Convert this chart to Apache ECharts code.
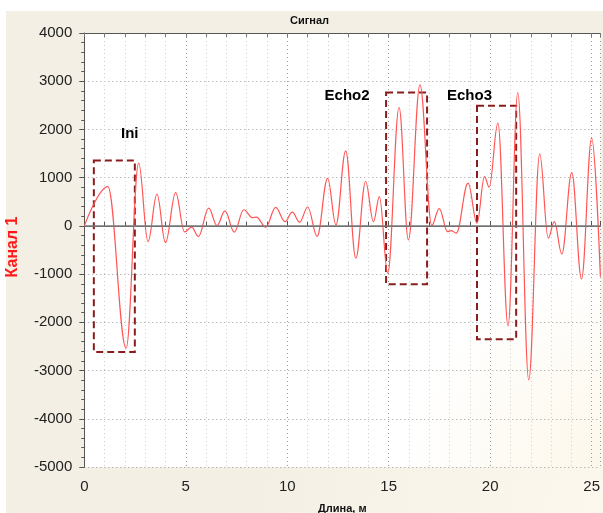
<!DOCTYPE html>
<html>
<head>
<meta charset="utf-8">
<title>Сигнал</title>
<script src="https://cdn.jsdelivr.net/npm/echarts@6/dist/echarts.min.js"></script>
<style>
  html, body { margin: 0; padding: 0; background: #ffffff; }
  #chart { width: 603px; height: 513px; }
</style>
</head>
<body>
<div id="chart"></div>
<script>
// Channel 1 signal: turning points of the trace (distance in m, amplitude)
const distance = [
  0, 1.16, 2.06, 2.68, 3.14, 3.58, 4.00, 4.50, 4.94, 5.29,
  5.62, 6.13, 6.54, 6.93, 7.39, 7.86, 8.28, 8.48, 8.94, 9.43,
  9.89, 10.25, 10.61, 11.01, 11.47, 11.99, 12.40, 12.88, 13.38, 13.86,
  14.25, 14.54, 14.95, 15.51, 15.97, 16.54, 17.12, 17.49, 17.90, 18.08,
  18.33, 18.91, 19.35, 19.72, 19.95, 20.38, 20.88, 21.36, 21.90, 22.44,
  22.86, 23.16, 23.53, 24.02, 24.50, 25.00, 25.43
];
const amplitude = [
  0, 815, -2537, 1300, -325, 657, -346, 691, -125, -25,
  -222, 367, 5, 310, -128, 335, 172, 182, -27, 385,
  89, 284, 77, 392, -218, 985, 20, 1556, -671, 920,
  89, 608, -982, 2455, -290, 2925, 10, 360, -120, -98,
  -150, 885, 56, 1023, 802, 2130, -2075, 2766, -3195, 1494,
  -255, 89, -581, 1106, -1100, 1820, -1052
];

// Highlighted regions of the trace
const regionNames = ['Ini', 'Echo2', 'Echo3'];
const regionX = [[0.47, 2.49], [14.87, 16.89], [19.35, 21.28]];
const regionY = [[-2614, 1355], [-1210, 2765], [-2350, 2490]];
const regionLabelAt = [[2.24, 1909], [12.95, 2697], [18.98, 2697]];

// Axes
const xRange = [0, 25.43];
const yRange = [-5000, 4000];
const xStep = 5;
const yStep = 1000;

const FONT = '"Liberation Sans", Arial, sans-serif';

const chart = echarts.init(document.getElementById('chart'), null, { renderer: 'canvas' });

const lineData = distance.map((d, i) => [d, amplitude[i]]);
const areaData = regionNames.map((n, i) => [
  { coord: [regionX[i][0], regionY[i][1]] },
  { coord: [regionX[i][1], regionY[i][0]] }
]);
const labelPoints = regionNames.map((n, i) => ({
  name: n,
  coord: regionLabelAt[i],
  value: n
}));

chart.setOption({
  animation: false,
  backgroundColor: {
    type: 'radial', x: 1, y: 1, r: 0.7,
    colorStops: [
      { offset: 0, color: '#fcf8ee' },
      { offset: 1, color: '#f3efe4' }
    ]
  },
  graphic: [
    { type: 'rect', shape: { x: 0, y: 0, width: 603, height: 11 }, style: { fill: '#ffffff' }, silent: true },
    { type: 'rect', shape: { x: 0, y: 0, width: 6, height: 513 }, style: { fill: '#ffffff' }, silent: true },
    {
      type: 'text', left: 290, top: 15,
      style: { text: 'Сигнал', font: 'bold 11px ' + FONT, fill: '#111111' }, silent: true
    },
    {
      type: 'text', left: 318, top: 503,
      style: { text: 'Длина, м', font: 'bold 11px ' + FONT, fill: '#111111' }, silent: true
    },
    {
      type: 'text', x: 5, y: 247, rotation: Math.PI / 2,
      style: {
        text: 'Канал 1', font: 'bold 16px ' + FONT, fill: '#ff1a1a',
        align: 'center', verticalAlign: 'top'
      },
      silent: true
    }
  ],
  grid: {
    left: 84.3, top: 33, right: 0, bottom: 46,
    show: true, borderWidth: 0,
    backgroundColor: {
      type: 'radial', x: 1, y: 1, r: 0.45,
      colorStops: [
        { offset: 0, color: '#fdf7ea' },
        { offset: 1, color: '#ffffff' }
      ]
    }
  },
  xAxis: [
    {
      type: 'value', position: 'bottom',
      min: xRange[0], max: xRange[1], interval: xStep,
      axisLine: { show: true, lineStyle: { color: '#555555', width: 1 } },
      axisTick: { show: true, inside: true, length: 5, lineStyle: { color: '#555555' } },
      minorTick: { show: true, splitNumber: 5, length: 4, lineStyle: { color: '#555555' } },
      axisLabel: {
        color: '#222222', fontSize: 15, fontFamily: FONT, margin: 12,
        showMaxLabel: false,
        formatter: v => (Math.abs(v / xStep - Math.round(v / xStep)) < 1e-6 ? String(Math.round(v)) : '')
      },
      splitLine: { show: true, lineStyle: { color: '#9a9a9a', type: [1, 3], width: 1 } },
      minorSplitLine: { show: true, lineStyle: { color: '#cfcfcf', type: [1, 3], width: 1 } }
    },
    {
      type: 'value', position: 'top',
      min: xRange[0], max: xRange[1], interval: 1,
      axisLine: { show: true, lineStyle: { color: '#555555', width: 1 } },
      axisTick: { show: true, inside: true, length: 4, lineStyle: { color: '#777777' } },
      axisLabel: { show: false },
      splitLine: { show: false }
    }
  ],
  yAxis: {
    type: 'value',
    min: yRange[0], max: yRange[1], interval: yStep,
    axisLine: { show: true, lineStyle: { color: '#555555', width: 1 } },
    axisTick: { show: true, inside: false, length: 5, lineStyle: { color: '#555555' } },
    minorTick: { show: true, splitNumber: 5, length: 3, lineStyle: { color: '#555555' } },
    axisLabel: {
      color: '#222222', fontSize: 15, fontFamily: FONT, margin: 12,
      formatter: v => String(Math.round(v))
    },
    splitLine: { show: true, lineStyle: { color: '#9a9a9a', type: [1, 3], width: 1 } }
  },
  series: [
    {
      name: 'Канал 1',
      type: 'line',
      xAxisIndex: 0,
      data: lineData,
      showSymbol: false,
      smooth: 0.38,
      smoothMonotone: 'x',
      lineStyle: { color: '#ff5555', width: 1.2 },
      z: 3,
      markLine: {
        silent: true, symbol: 'none', label: { show: false },
        lineStyle: { color: '#7a7a7a', type: 'solid', width: 1.5 },
        data: [{ yAxis: 0 }]
      },
      markArea: {
        silent: true,
        itemStyle: { color: 'rgba(0,0,0,0)', borderColor: '#8b1c1c', borderWidth: 2, borderType: [7, 4] },
        data: areaData
      },
      markPoint: {
        silent: true,
        symbol: 'rect',
        symbolSize: 1,
        itemStyle: { color: 'rgba(0,0,0,0)' },
        label: {
          show: true, position: 'inside', formatter: p => p.name,
          color: '#000000', opacity: 1, textBorderWidth: 0,
          fontSize: 15, fontWeight: 'bold', fontFamily: FONT
        },
        data: labelPoints
      }
    }
  ]
});
</script>
</body>
</html>
